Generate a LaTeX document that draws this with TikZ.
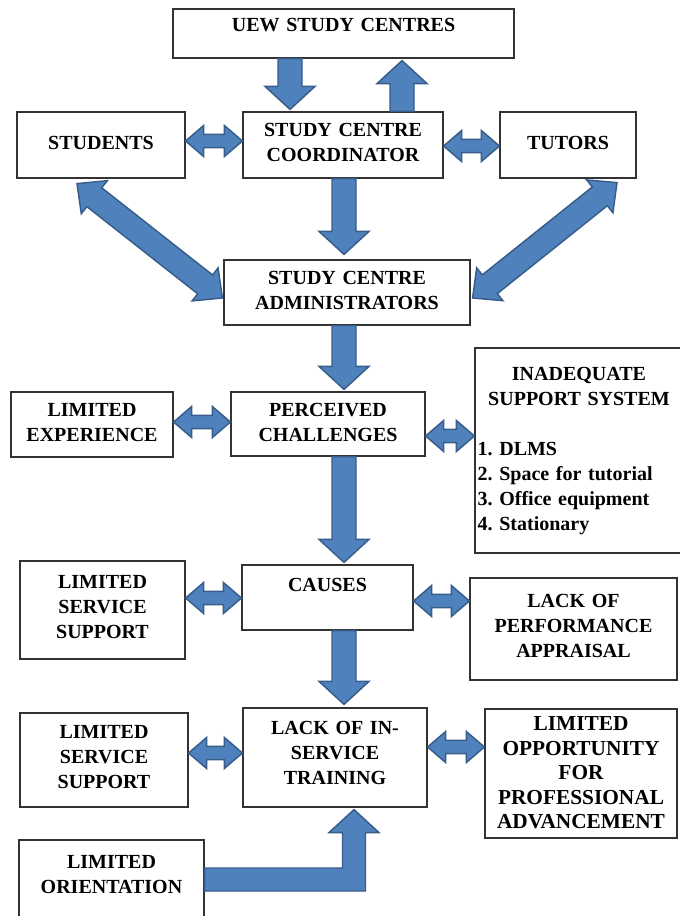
\documentclass[tikz,border=0pt]{standalone}
\usepackage{fontspec}
\setmainfont{Liberation Serif}
\usetikzlibrary{calc}
\frenchspacing
\definecolor{abfill}{HTML}{4F81BD}
\definecolor{abline}{HTML}{385D8A}
\tikzset{
  box/.style={draw=black!80, line width=0.9pt, fill=white, inner xsep=2pt, inner ysep=0pt,
    align=center, text height=10pt, font=\bfseries\fontsize{15}{18.75}\selectfont},
  barrow/.style={fill=abfill, draw=abline, line width=1.1pt, line join=miter},
}
% optional style, name, x1, y1, x2, y2, first-line y, text  (pixel units)
\newcommand\bx[8][]{%
  \pgfmathsetmacro\bxw{(#5-#3)*0.75}%
  \pgfmathsetmacro\bxh{(#6-#4)*0.75}%
  \pgfmathsetmacro\bxt{(#5-#3)*0.75-4}%
  \pgfmathsetmacro\bxd{1.5*((#4+#6)/2-#7)}%
  \node[box, minimum width=\bxw pt, minimum height=\bxh pt, text width=\bxt pt, text depth=\bxd pt, #1] (#2) at ({(#3+#5)/2},{(#4+#6)/2}) {#8};}
% single block arrow: from, to, half shaft, half head, head length
\newcommand\sarrow[5]{%
  \coordinate (saC) at ($(#2)!#5!(#1)$);
  \draw[barrow] ($(#1)!#3!90:(#2)$) -- ($(saC)!#3!90:(#2)$) -- ($(saC)!#4!90:(#2)$) -- (#2)
    -- ($(saC)!#4!-90:(#2)$) -- ($(saC)!#3!-90:(#2)$) -- ($(#1)!#3!-90:(#2)$) -- cycle;}
% double block arrow
\newcommand\darrow[5]{%
  \coordinate (daA) at ($(#1)!#5!(#2)$);
  \coordinate (daB) at ($(#2)!#5!(#1)$);
  \draw[barrow] (#1) -- ($(daA)!#4!90:(#2)$) -- ($(daA)!#3!90:(#2)$) -- ($(daB)!#3!90:(#2)$)
    -- ($(daB)!#4!90:(#2)$) -- (#2) -- ($(daB)!#4!-90:(#2)$) -- ($(daB)!#3!-90:(#2)$)
    -- ($(daA)!#3!-90:(#2)$) -- ($(daA)!#4!-90:(#2)$) -- cycle;}
\begin{document}
\begin{tikzpicture}[x=0.75pt,y=-0.75pt]
\useasboundingbox (0,0) rectangle (680,916);
\fill[white] (0,0) rectangle (680,916);
\clip (0,0) rectangle (680,916);

\bx{uew}{173}{9}{514}{58}{25}{UEW STUDY CENTRES}
\bx{stud}{17}{112}{185}{178}{143}{STUDENTS}
\bx{scc}{243}{112}{443}{178}{130}{STUDY CENTRE\\COORDINATOR}
\bx{tut}{500}{112}{636}{178}{143}{TUTORS}
\bx{sca}{224}{260}{470}{325}{278}{STUDY CENTRE\\ADMINISTRATORS}
\bx{lexp}{11}{392}{173}{457}{410}{LIMITED\\EXPERIENCE}
\bx{pc}{231}{392}{425}{456}{410}{PERCEIVED\\CHALLENGES}
\bx[align=left]{isys}{475}{348}{683}{553}{374}{{\centering INADEQUATE\\SUPPORT SYSTEM\par}\vspace{18.75pt}1. DLMS\\2. Space for tutorial\\3. Office equipment\\4. Stationary}
\bx{lss1}{20}{561}{185}{659}{582}{LIMITED\\SERVICE\\SUPPORT}
\bx{cau}{242}{565}{413}{630}{585}{CAUSES}
\bx{lpa}{470}{578}{677}{680}{601}{LACK OF\\PERFORMANCE\\APPRAISAL}
\bx{lss2}{20}{713}{188}{807}{732}{LIMITED\\SERVICE\\SUPPORT}
\bx{list}{243}{708}{427}{807}{728}{LACK OF IN-\\SERVICE\\TRAINING}
\bx[font=\bfseries\fontsize{16}{18.4}\selectfont]{lop}{485}{709}{677}{838}{724}{LIMITED\\OPPORTUNITY\\FOR\\PROFESSIONAL\\ADVANCEMENT}
\bx{lor}{19}{840}{204}{930}{862}{LIMITED\\ORIENTATION}

% vertical arrows
\coordinate (a1s) at ($(uew.south)+(-53.5,0)$);
\coordinate (a1e) at ($(scc.north)+(-53,-2)$);
\sarrow{a1s}{a1e}{9pt}{18.75pt}{17.25pt}
\coordinate (a2s) at ($(scc.north)+(59,0)$);
\coordinate (a2e) at ($(uew.south)+(58.5,2)$);
\sarrow{a2s}{a2e}{9pt}{18.75pt}{17.25pt}
\coordinate (a5s) at ($(scc.south)+(1,0)$);
\coordinate (a5e) at ($(sca.north)+(-3,-5)$);
\sarrow{a5s}{a5e}{9pt}{18.75pt}{17.25pt}
\coordinate (a8s) at ($(sca.south)+(-3,0)$);
\coordinate (a8e) at ($(pc.north)+(16,-2)$);
\sarrow{a8s}{a8e}{9pt}{18.75pt}{17.25pt}
\coordinate (a11s) at ($(pc.south)+(16,0)$);
\coordinate (a11e) at ($(cau.north)+(16.5,-2)$);
\sarrow{a11s}{a11e}{9pt}{18.75pt}{17.25pt}
\coordinate (a14s) at ($(cau.south)+(16.5,0)$);
\coordinate (a14e) at ($(list.north)+(9,-3)$);
\sarrow{a14s}{a14e}{9pt}{18.75pt}{17.25pt}

% horizontal double arrows
\coordinate (a3s) at ($(stud.east)+(0,-4)$);
\coordinate (a3e) at ($(scc.west)+(0,-4)$);
\darrow{a3s}{a3e}{4.9pt}{11.6pt}{13.5pt}
\coordinate (a4s) at ($(scc.east)+(0,1)$);
\coordinate (a4e) at ($(tut.west)+(0,1)$);
\darrow{a4s}{a4e}{4.9pt}{11.6pt}{13.5pt}
\coordinate (a9s) at ($(lexp.east)+(0,-2.5)$);
\coordinate (a9e) at ($(pc.west)+(0,-2)$);
\darrow{a9s}{a9e}{4.9pt}{11.6pt}{13.5pt}
\coordinate (a10s) at ($(pc.east)+(0,12)$);
\coordinate (a10e) at ($(isys.west)+(0,-14.5)$);
\darrow{a10s}{a10e}{4.9pt}{11.6pt}{13.5pt}
\coordinate (a12s) at ($(lss1.east)+(0,-12)$);
\coordinate (a12e) at ($(cau.west)+(0,0.5)$);
\darrow{a12s}{a12e}{4.9pt}{11.6pt}{13.5pt}
\coordinate (a13s) at ($(cau.east)+(0,3.5)$);
\coordinate (a13e) at ($(lpa.west)+(0,-28)$);
\darrow{a13s}{a13e}{4.9pt}{11.6pt}{13.5pt}
\coordinate (a15s) at ($(lss2.east)+(0,-7)$);
\coordinate (a15e) at ($(list.west)+(0,-4.5)$);
\darrow{a15s}{a15e}{4.9pt}{11.6pt}{13.5pt}
\coordinate (a16s) at ($(list.east)+(0,-10.5)$);
\coordinate (a16e) at ($(lop.west)+(0,-26.5)$);
\darrow{a16s}{a16e}{4.9pt}{11.6pt}{13.5pt}

% diagonal double arrows
\coordinate (a6s) at ($(stud.south)+(-24,5)$);
\coordinate (a6e) at ($(sca.west)+(-1,5.5)$);
\darrow{a6s}{a6e}{9pt}{15.75pt}{16.5pt}
\coordinate (a7s) at ($(tut.south)+(49,4)$);
\coordinate (a7e) at ($(sca.east)+(2,5.5)$);
\darrow{a7s}{a7e}{9pt}{15.75pt}{16.5pt}

% bent arrow from LIMITED ORIENTATION
\coordinate (ka) at ($(lor.east)+(0,-5.5)$);
\coordinate (kb) at ($(list.south)+(19,2)$);
\coordinate (kc) at (kb |- ka);
\draw[barrow] ($(ka)+(0,-11.5)$) -- ($(kc)+(-11.5,-11.5)$) -- ($(kb)+(-11.5,23)$) -- ($(kb)+(-25,23)$)
  -- (kb) -- ($(kb)+(25,23)$) -- ($(kb)+(11.5,23)$) -- ($(kc)+(11.5,11.5)$) -- ($(ka)+(0,11.5)$) -- cycle;
\end{tikzpicture}
\end{document}
